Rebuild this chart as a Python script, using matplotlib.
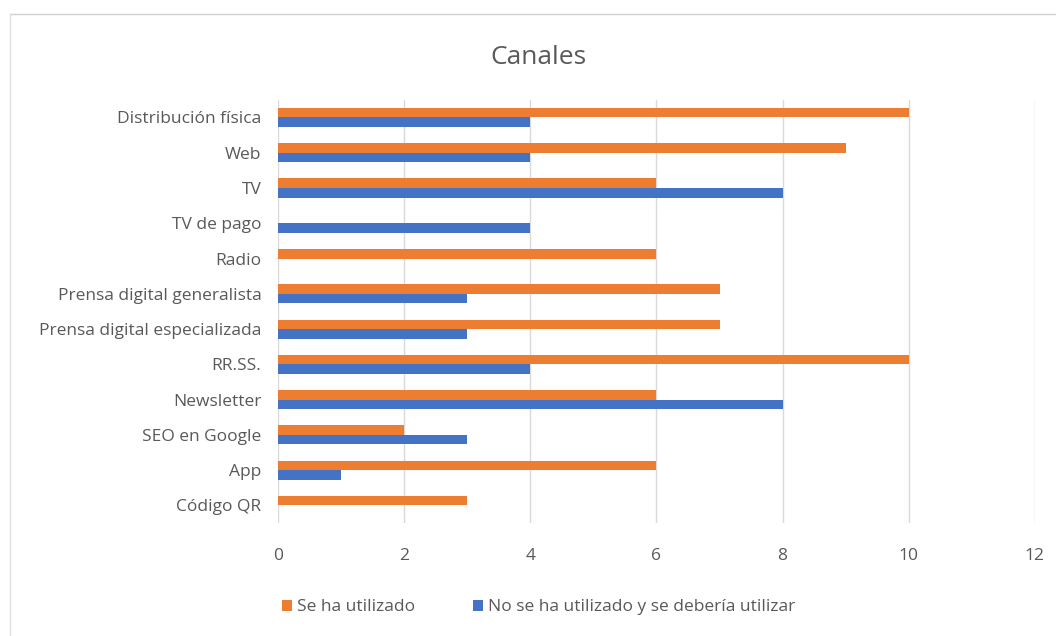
import matplotlib.pyplot as plt
import numpy as np
from matplotlib.lines import Line2D

canales = ['Distribución física', 'Web', 'TV', 'TV de pago', 'Radio',
           'Prensa digital generalista', 'Prensa digital especializada',
           'RR.SS.', 'Newsletter', 'SEO en Google', 'App', 'Código QR']
utilizado = [10, 9, 6, 0, 6, 7, 7, 10, 6, 2, 6, 3]
deberia = [4, 4, 8, 4, 0, 3, 3, 4, 8, 3, 1, 0]

naranja = '#ED7D31'
azul = '#4472C4'
gris = '#595959'

plt.rcParams['font.family'] = ['Open Sans', 'DejaVu Sans']

fig = plt.figure(figsize=(10.56, 6.36), dpi=100)
ax = fig.add_axes([0.2633, 0.1777, 0.7167, 0.6653])

y = np.arange(len(canales))
h = 0.27
ax.barh(y - h / 2, utilizado, height=h, color=naranja, label='Se ha utilizado', zorder=3)
ax.barh(y + h / 2, deberia, height=h, color=azul,
        label='No se ha utilizado y se debería utilizar', zorder=3)

ax.set_xlim(0, 12)
ax.set_ylim(len(canales) - 0.5, -0.5)
ax.set_xticks(range(0, 13, 2))
ax.set_yticks(y)
ax.set_yticklabels(canales)
ax.tick_params(length=0, labelsize=12.5, labelcolor=gris)
ax.tick_params(axis='x', pad=18)
ax.tick_params(axis='y', pad=12)
ax.grid(axis='x', color='#D9D9D9', linewidth=1, zorder=0)
for s in ax.spines.values():
    s.set_visible(False)

fig.text(0.51, 0.91, 'Canales', ha='center', va='center', fontsize=19, color=gris)

fig.legend(loc='center', bbox_to_anchor=(0.51, 0.045), ncol=2, frameon=False,
           fontsize=12.5, labelcolor=gris, handlelength=0.6, handleheight=0.6,
           handletextpad=0.3, columnspacing=3.3)

# marco del gráfico
fig.add_artist(Line2D([10 / 1056, 1], [1 - 14 / 636] * 2, color='#D0D0D0', lw=1))
fig.add_artist(Line2D([10 / 1056] * 2, [0, 1 - 14 / 636], color='#E0E0E0', lw=1))

fig.savefig('out.png', dpi=100)
